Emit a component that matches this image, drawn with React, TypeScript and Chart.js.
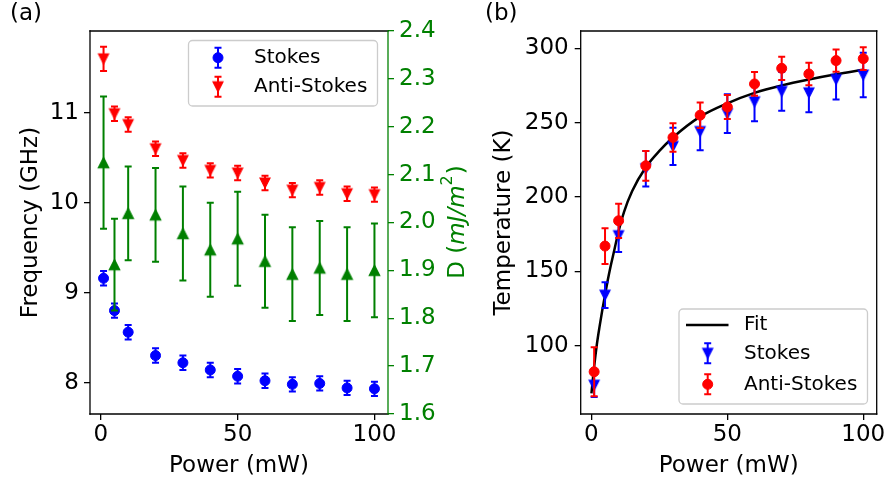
import { useEffect, useRef } from "react";
import { Chart, registerables } from "chart.js";

Chart.register(...registerables);

// ---- data -------------------------------------------------------------
const POWER = [1, 5, 10, 20, 30, 40, 50, 60, 70, 80, 90, 100];

// panel (a): magnon frequencies (GHz) and D (mJ/m^2)
const FREQ_STOKES = [9.16, 8.8, 8.56, 8.3, 8.22, 8.14, 8.07, 8.02, 7.98, 7.99, 7.94, 7.93];
const FREQ_STOKES_ERR = [0.08, 0.08, 0.08, 0.08, 0.08, 0.08, 0.08, 0.08, 0.08, 0.08, 0.08, 0.08];
const FREQ_ANTI = [11.6, 10.99, 10.87, 10.6, 10.47, 10.36, 10.33, 10.22, 10.14, 10.17, 10.1, 10.09];
const FREQ_ANTI_ERR = [0.135, 0.08, 0.08, 0.08, 0.08, 0.08, 0.08, 0.08, 0.08, 0.08, 0.08, 0.08];
const D_VALUES = [2.125, 1.912, 2.019, 2.016, 1.977, 1.943, 1.966, 1.919, 1.892, 1.905, 1.892, 1.9];
const D_ERR = [0.138, 0.096, 0.098, 0.098, 0.098, 0.098, 0.098, 0.097, 0.098, 0.098, 0.098, 0.098];

// panel (b): temperature (K)
const T_STOKES = [73.5, 134, 174, 219, 234, 244, 256, 264, 271, 270, 279, 282];
const T_STOKES_ERR = [8, 8.6, 11, 12, 12.5, 12.5, 13, 13, 13, 13, 13.5, 15];
const T_ANTI = [82.5, 167, 184, 221, 240, 255, 260.5, 276, 286.5, 282.7, 291.7, 293];
const T_ANTI_ERR = [16.5, 12, 11.5, 10, 9.6, 8.6, 8, 8, 7.8, 7.5, 7.5, 7.6];
const FIT_POWER = [0, 1, 2, 3, 4, 5, 6, 7, 8, 10, 12, 15, 20, 25, 30, 40, 50, 60, 70, 80, 90, 100];
const FIT_TEMP = [68, 86, 101, 113, 124, 134, 144, 153, 161, 177, 190, 204, 220, 231, 240, 254, 263, 270, 275, 279, 282.5, 285.5];

// axis ticks
const POWER_TICKS = [0, 50, 100];
const FREQ_TICKS = [8, 9, 10, 11];
const D_TICKS = [1.6, 1.7, 1.8, 1.9, 2.0, 2.1, 2.2, 2.3, 2.4];
const T_TICKS = [100, 150, 200, 250, 300];

// ---- styling ----------------------------------------------------------
const FAMILY = '"DejaVu Sans", "Liberation Sans", sans-serif';
const TICK_SIZE = 23;
const LABEL_SIZE = 23;
const LEGEND_SIZE = 20;
const BLUE = "#0000ff";
const RED = "#ff0000";
const GREEN = "#008000";
const CAP = 3.5;
const ERR_LW = 2;
const SPINE_LW = 1.3;

function triangleMarker(color: string, size: number, down: boolean): HTMLCanvasElement {
  const dim = Math.ceil(size) + 4;
  const c = document.createElement("canvas");
  c.width = dim;
  c.height = dim;
  const ctx = c.getContext("2d")!;
  const cx = dim / 2;
  const cy = dim / 2;
  const h = size / 2;
  ctx.beginPath();
  if (down) {
    ctx.moveTo(cx - h, cy - h);
    ctx.lineTo(cx + h, cy - h);
    ctx.lineTo(cx, cy + h);
  } else {
    ctx.moveTo(cx, cy - h);
    ctx.lineTo(cx + h, cy + h);
    ctx.lineTo(cx - h, cy + h);
  }
  ctx.closePath();
  ctx.fillStyle = color;
  ctx.fill();
  ctx.strokeStyle = color;
  ctx.lineWidth = 1.2;
  ctx.stroke();
  return c;
}

function drawErrorGlyph(ctx: CanvasRenderingContext2D, x: number, y1: number, y2: number, color: string) {
  ctx.save();
  ctx.strokeStyle = color;
  ctx.lineWidth = ERR_LW;
  ctx.beginPath();
  ctx.moveTo(x, y1);
  ctx.lineTo(x, y2);
  ctx.moveTo(x - CAP, y1);
  ctx.lineTo(x + CAP, y1);
  ctx.moveTo(x - CAP, y2);
  ctx.lineTo(x + CAP, y2);
  ctx.stroke();
  ctx.restore();
}

// error bars are painted right before each dataset's own markers
const errorBarPlugin = {
  id: "errorBars",
  beforeDatasetDraw(chart: any, args: any) {
    const ds = chart.data.datasets[args.index];
    if (!ds.errors) return;
    const xs = chart.scales[ds.xAxisID || "x"];
    const ys = chart.scales[ds.yAxisID || "y"];
    ds.data.forEach((p: { x: number; y: number }, i: number) => {
      const e = ds.errors[i];
      const px = xs.getPixelForValue(p.x);
      drawErrorGlyph(chart.ctx, px, ys.getPixelForValue(p.y - e), ys.getPixelForValue(p.y + e), ds.errorColor);
    });
  },
};

function text(ctx: CanvasRenderingContext2D, s: string, x: number, y: number, size: number, color = "#000", align: CanvasTextAlign = "left", baseline: CanvasTextBaseline = "alphabetic") {
  ctx.save();
  ctx.font = `${size}px ${FAMILY}`;
  ctx.fillStyle = color;
  ctx.textAlign = align;
  ctx.textBaseline = baseline;
  ctx.fillText(s, x, y);
  ctx.restore();
}

function rotatedText(ctx: CanvasRenderingContext2D, s: string, x: number, y: number, size: number, color = "#000") {
  ctx.save();
  ctx.translate(x, y);
  ctx.rotate(-Math.PI / 2);
  ctx.font = `${size}px ${FAMILY}`;
  ctx.fillStyle = color;
  ctx.textAlign = "center";
  ctx.textBaseline = "alphabetic";
  ctx.fillText(s, 0, 0);
  ctx.restore();
}

function spine(ctx: CanvasRenderingContext2D, x1: number, y1: number, x2: number, y2: number, color: string) {
  ctx.save();
  ctx.strokeStyle = color;
  ctx.lineWidth = SPINE_LW;
  ctx.lineCap = "square";
  ctx.beginPath();
  ctx.moveTo(x1, y1);
  ctx.lineTo(x2, y2);
  ctx.stroke();
  ctx.restore();
}

function legendFrame(ctx: CanvasRenderingContext2D, x: number, y: number, w: number, h: number) {
  ctx.save();
  ctx.beginPath();
  ctx.roundRect(x, y, w, h, 4);
  ctx.fillStyle = "rgba(255,255,255,0.8)";
  ctx.fill();
  ctx.strokeStyle = "#cccccc";
  ctx.lineWidth = SPINE_LW;
  ctx.stroke();
  ctx.restore();
}

function circleMarker(ctx: CanvasRenderingContext2D, x: number, y: number, color: string) {
  ctx.save();
  ctx.beginPath();
  ctx.arc(x, y, 5, 0, Math.PI * 2);
  ctx.fillStyle = color;
  ctx.fill();
  ctx.strokeStyle = color;
  ctx.lineWidth = 1;
  ctx.stroke();
  ctx.restore();
}

function axisTicks(color: string) {
  return {
    grid: { drawOnChartArea: false, drawTicks: true, tickLength: 6, color, lineWidth: SPINE_LW },
    border: { display: false },
  };
}

function fixedTicks(values: number[]) {
  return (s: any) => {
    s.ticks = values.map((v) => ({ value: v }));
  };
}

function powerAxis() {
  return {
    type: "linear",
    position: "bottom",
    min: -3.95,
    max: 104.95,
    afterBuildTicks: fixedTicks(POWER_TICKS),
    afterFit: (s: any) => {
      s.height = 67;
      s.paddingLeft = 0;
      s.paddingRight = 0;
    },
    ...axisTicks("#000"),
    ticks: { color: "#000", font: { family: FAMILY, size: TICK_SIZE }, padding: 1, maxRotation: 0, autoSkip: false },
  };
}

function points(xs: number[], ys: number[]) {
  return xs.map((x, i) => ({ x, y: ys[i] }));
}

// ---- panel (a) ----------------------------------------------------------
function leftConfig(): any {
  const antiMarker = triangleMarker(RED, 10, true);
  const dMarker = triangleMarker(GREEN, 10.5, false);

  const decor = {
    id: "panelA",
    afterDatasetsDraw(chart: any) {
      const { ctx, chartArea: a } = chart;
      spine(ctx, a.left, a.top, a.right, a.top, "#000");
      spine(ctx, a.left, a.top, a.left, a.bottom, "#000");
      spine(ctx, a.left, a.bottom, a.right, a.bottom, "#000");
      spine(ctx, a.right, a.top, a.right, a.bottom, GREEN);
    },
    afterDraw(chart: any) {
      const { ctx, chartArea: a } = chart;
      const cy = (a.top + a.bottom) / 2;
      text(ctx, "(a)", 10, 20, LABEL_SIZE);
      text(ctx, "Power (mW)", (a.left + a.right) / 2, 472, LABEL_SIZE, "#000", "center");
      rotatedText(ctx, "Frequency (GHz)", 36.5, cy, LABEL_SIZE);

      // D (mJ/m^2) with italic units and superscript
      ctx.save();
      ctx.translate(464, cy);
      ctx.rotate(-Math.PI / 2);
      ctx.fillStyle = GREEN;
      ctx.textBaseline = "alphabetic";
      const parts: [string, string, number][] = [
        ["D (", `${LABEL_SIZE}px ${FAMILY}`, 0],
        ["mJ/m", `italic ${LABEL_SIZE}px ${FAMILY}`, 0],
        ["2", `${Math.round(LABEL_SIZE * 0.68)}px ${FAMILY}`, -12],
        [")", `${LABEL_SIZE}px ${FAMILY}`, 0],
      ];
      let total = 0;
      const widths = parts.map(([s, f]) => {
        ctx.font = f;
        const w = ctx.measureText(s).width;
        total += w;
        return w;
      });
      let cx = -total / 2;
      parts.forEach(([s, f, dy], i) => {
        ctx.font = f;
        ctx.fillText(s, cx, dy);
        cx += widths[i] + (i === 2 ? 1 : 0);
      });
      ctx.restore();

      // legend
      legendFrame(ctx, 188.5, 40.5, 189, 65.5);
      const hx = 218;
      const r1 = 57.7;
      const r2 = 86.7;
      drawErrorGlyph(ctx, hx, r1 - 10, r1 + 10, BLUE);
      circleMarker(ctx, hx, r1, BLUE);
      drawErrorGlyph(ctx, hx, r2 - 10, r2 + 10, RED);
      ctx.drawImage(antiMarker, hx - antiMarker.width / 2, r2 - antiMarker.height / 2);
      text(ctx, "Stokes", 254, r1, LEGEND_SIZE, "#000", "left", "middle");
      text(ctx, "Anti-Stokes", 254, r2, LEGEND_SIZE, "#000", "left", "middle");
    },
  };

  return {
    type: "scatter",
    data: {
      datasets: [
        {
          label: "Stokes",
          data: points(POWER, FREQ_STOKES),
          errors: FREQ_STOKES_ERR,
          errorColor: BLUE,
          yAxisID: "y",
          pointStyle: "circle",
          pointRadius: 5,
          pointBorderWidth: 1,
          pointBackgroundColor: BLUE,
          pointBorderColor: BLUE,
          order: 3,
        },
        {
          label: "Anti-Stokes",
          data: points(POWER, FREQ_ANTI),
          errors: FREQ_ANTI_ERR,
          errorColor: RED,
          yAxisID: "y",
          pointStyle: antiMarker,
          pointRadius: 5,
          order: 2,
        },
        {
          label: "D",
          data: points(POWER, D_VALUES),
          errors: D_ERR,
          errorColor: GREEN,
          yAxisID: "y2",
          pointStyle: dMarker,
          pointRadius: 5,
          order: 1,
        },
      ],
    },
    options: {
      animation: false,
      responsive: false,
      devicePixelRatio: 1,
      events: [],
      layout: { padding: { top: 31, left: 0, right: 0, bottom: 0 } },
      plugins: { legend: { display: false }, tooltip: { enabled: false } },
      scales: {
        x: powerAxis(),
        y: {
          type: "linear",
          position: "left",
          min: 7.65,
          max: 11.91,
          afterBuildTicks: fixedTicks(FREQ_TICKS),
          afterFit: (s: any) => {
            s.width = 90;
          },
          ...axisTicks("#000"),
          ticks: { color: "#000", font: { family: FAMILY, size: TICK_SIZE }, padding: 5, autoSkip: false },
        },
        y2: {
          type: "linear",
          position: "right",
          min: 1.6,
          max: 2.4,
          afterBuildTicks: fixedTicks(D_TICKS),
          afterFit: (s: any) => {
            s.width = 82;
          },
          ...axisTicks(GREEN),
          ticks: {
            color: GREEN,
            font: { family: FAMILY, size: TICK_SIZE },
            padding: 5,
            autoSkip: false,
            callback: (v: number) => Number(v).toFixed(1),
          },
        },
      },
    },
    plugins: [errorBarPlugin, decor],
  };
}

// ---- panel (b) ----------------------------------------------------------
function rightConfig(): any {
  const stokesMarker = triangleMarker(BLUE, 10, true);

  const decor = {
    id: "panelB",
    afterDatasetsDraw(chart: any) {
      const { ctx, chartArea: a } = chart;
      spine(ctx, a.left, a.top, a.right, a.top, "#000");
      spine(ctx, a.left, a.top, a.left, a.bottom, "#000");
      spine(ctx, a.left, a.bottom, a.right, a.bottom, "#000");
      spine(ctx, a.right, a.top, a.right, a.bottom, "#000");
    },
    afterDraw(chart: any) {
      const { ctx, chartArea: a } = chart;
      text(ctx, "(b)", 15, 20, LABEL_SIZE);
      text(ctx, "Power (mW)", (a.left + a.right) / 2, 472, LABEL_SIZE, "#000", "center");
      rotatedText(ctx, "Temperature (K)", 39.5, (a.top + a.bottom) / 2, LABEL_SIZE);

      legendFrame(ctx, 209, 309, 188.5, 95);
      const hx = 237.7;
      const r0 = 325;
      const r1 = 353.3;
      const r2 = 384.3;
      ctx.save();
      ctx.strokeStyle = "#000";
      ctx.lineWidth = 2.5;
      ctx.beginPath();
      ctx.moveTo(216, r0);
      ctx.lineTo(258.5, r0);
      ctx.stroke();
      ctx.restore();
      drawErrorGlyph(ctx, hx, r1 - 10, r1 + 10, BLUE);
      ctx.drawImage(stokesMarker, hx - stokesMarker.width / 2, r1 - stokesMarker.height / 2);
      drawErrorGlyph(ctx, hx, r2 - 10, r2 + 10, RED);
      circleMarker(ctx, hx, r2, RED);
      text(ctx, "Fit", 274, r0, LEGEND_SIZE, "#000", "left", "middle");
      text(ctx, "Stokes", 274, r1, LEGEND_SIZE, "#000", "left", "middle");
      text(ctx, "Anti-Stokes", 274, r2, LEGEND_SIZE, "#000", "left", "middle");
    },
  };

  return {
    type: "scatter",
    data: {
      datasets: [
        {
          label: "Fit",
          data: points(FIT_POWER, FIT_TEMP),
          showLine: true,
          borderColor: "#000",
          borderWidth: 2.5,
          cubicInterpolationMode: "monotone",
          pointRadius: 0,
          order: 3,
        },
        {
          label: "Stokes",
          data: points(POWER, T_STOKES),
          errors: T_STOKES_ERR,
          errorColor: BLUE,
          pointStyle: stokesMarker,
          pointRadius: 5,
          order: 2,
        },
        {
          label: "Anti-Stokes",
          data: points(POWER, T_ANTI),
          errors: T_ANTI_ERR,
          errorColor: RED,
          pointStyle: "circle",
          pointRadius: 5,
          pointBorderWidth: 1,
          pointBackgroundColor: RED,
          pointBorderColor: RED,
          order: 1,
        },
      ],
    },
    options: {
      animation: false,
      responsive: false,
      devicePixelRatio: 1,
      events: [],
      layout: { padding: { top: 31, left: 0, right: 11.3, bottom: 0 } },
      plugins: { legend: { display: false }, tooltip: { enabled: false } },
      scales: {
        x: powerAxis(),
        y: {
          type: "linear",
          position: "left",
          min: 54.1,
          max: 311.6,
          afterBuildTicks: fixedTicks(T_TICKS),
          afterFit: (s: any) => {
            s.width = 110.7;
          },
          ...axisTicks("#000"),
          ticks: { color: "#000", font: { family: FAMILY, size: TICK_SIZE }, padding: 6, autoSkip: false },
        },
      },
    },
    plugins: [errorBarPlugin, decor],
  };
}

export default function App() {
  const leftRef = useRef<HTMLCanvasElement>(null);
  const rightRef = useRef<HTMLCanvasElement>(null);

  useEffect(() => {
    const a = new Chart(leftRef.current!, leftConfig());
    const b = new Chart(rightRef.current!, rightConfig());
    return () => {
      a.destroy();
      b.destroy();
    };
  }, []);

  return (
    <div style={{ position: "fixed", left: 0, top: 0, width: 888, height: 481, background: "#fff" }}>
      <canvas ref={leftRef} width={470} height={481} style={{ position: "absolute", left: 0, top: 0, width: 470, height: 481 }} />
      <canvas ref={rightRef} width={418} height={481} style={{ position: "absolute", left: 470, top: 0, width: 418, height: 481 }} />
    </div>
  );
}
